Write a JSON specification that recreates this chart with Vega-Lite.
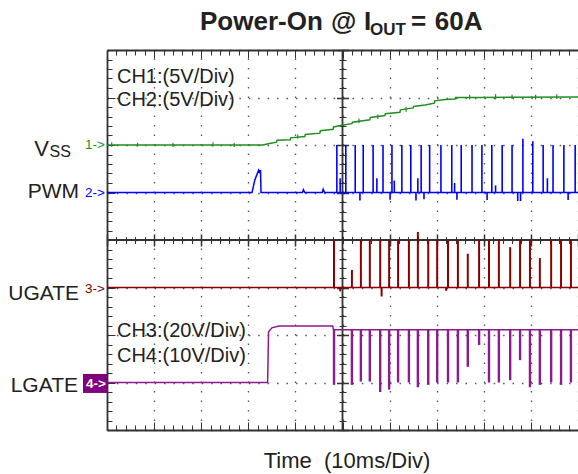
{
  "$schema": "https://vega.github.io/schema/vega-lite/v6.json",
  "width": 471,
  "height": 380,
  "autosize": {"type": "none"},
  "padding": {"left": 107, "top": 50, "right": 0, "bottom": 44},
  "background": "white",
  "config": {"view": {"stroke": null}, "font": "Liberation Sans", "text": {"font": "Liberation Sans"}},
  "resolve": {"axis": {"x": "independent", "y": "independent"}},
  "datasets": {
    "traces": [
      {"ch": "Vss", "t": 0, "v": 2.0}, {"ch": "Vss", "t": 33.1, "v": 2.0}, {"ch": "Vss", "t": 34.5, "v": 2.03}, {"ch": "Vss", "t": 36.0, "v": 2.06}, {"ch": "Vss", "t": 36.1, "v": 2.1}, {"ch": "Vss", "t": 38.9, "v": 2.11}, {"ch": "Vss", "t": 39.0, "v": 2.15}, {"ch": "Vss", "t": 42.0, "v": 2.18}, {"ch": "Vss", "t": 42.1, "v": 2.22}, {"ch": "Vss", "t": 45.2, "v": 2.25}, {"ch": "Vss", "t": 45.3, "v": 2.3}, {"ch": "Vss", "t": 48.0, "v": 2.33}, {"ch": "Vss", "t": 48.1, "v": 2.38}, {"ch": "Vss", "t": 50.1, "v": 2.42}, {"ch": "Vss", "t": 52.0, "v": 2.45}, {"ch": "Vss", "t": 52.1, "v": 2.48}, {"ch": "Vss", "t": 55.8, "v": 2.53}, {"ch": "Vss", "t": 55.9, "v": 2.58}, {"ch": "Vss", "t": 59.0, "v": 2.62}, {"ch": "Vss", "t": 59.1, "v": 2.66}, {"ch": "Vss", "t": 62.2, "v": 2.69}, {"ch": "Vss", "t": 62.3, "v": 2.74}, {"ch": "Vss", "t": 65.0, "v": 2.78}, {"ch": "Vss", "t": 65.1, "v": 2.81}, {"ch": "Vss", "t": 67.5, "v": 2.84}, {"ch": "Vss", "t": 69.5, "v": 2.88}, {"ch": "Vss", "t": 69.6, "v": 2.93}, {"ch": "Vss", "t": 71.8, "v": 2.96}, {"ch": "Vss", "t": 73.9, "v": 2.97}, {"ch": "Vss", "t": 74.0, "v": 3.0}, {"ch": "Vss", "t": 79.2, "v": 3.0}, {"ch": "Vss", "t": 100, "v": 3.01},
      {"ch": "PWM", "t": 0, "v": 1.0}, {"ch": "PWM", "t": 30.8, "v": 1.0}, {"ch": "PWM", "t": 31.4, "v": 1.27}, {"ch": "PWM", "t": 32.2, "v": 1.47}, {"ch": "PWM", "t": 32.4, "v": 1.43}, {"ch": "PWM", "t": 32.6, "v": 1.47}, {"ch": "PWM", "t": 32.7, "v": 1.0}, {"ch": "PWM", "t": 41.5, "v": 1.0}, {"ch": "PWM", "t": 41.7, "v": 1.06}, {"ch": "PWM", "t": 42.0, "v": 1.0}, {"ch": "PWM", "t": 45.7, "v": 1.0}, {"ch": "PWM", "t": 45.9, "v": 1.07}, {"ch": "PWM", "t": 46.2, "v": 1.0}, {"ch": "PWM", "t": 100, "v": 1.0},
      {"ch": "UGATE", "t": 0, "v": -1.0}, {"ch": "UGATE", "t": 100, "v": -1.0},
      {"ch": "LGATE", "t": 0, "v": -3.0}, {"ch": "LGATE", "t": 34.1, "v": -3.0}, {"ch": "LGATE", "t": 34.3, "v": -1.93}, {"ch": "LGATE", "t": 35.0, "v": -1.85}, {"ch": "LGATE", "t": 36.5, "v": -1.81}, {"ch": "LGATE", "t": 47.9, "v": -1.81}, {"ch": "LGATE", "t": 48.1, "v": -1.89}, {"ch": "LGATE", "t": 100, "v": -1.89}
    ],
    "pulses": [
      {"ch": "PWM", "t": 48.8, "lo": 1.0, "hi": 2.0}, {"ch": "PWM", "t": 50.7, "lo": 1.0, "hi": 2.0}, {"ch": "PWM", "t": 52.7, "lo": 1.0, "hi": 2.0}, {"ch": "PWM", "t": 54.4, "lo": 1.0, "hi": 2.0}, {"ch": "PWM", "t": 56.5, "lo": 1.0, "hi": 2.0}, {"ch": "PWM", "t": 58.6, "lo": 1.0, "hi": 2.0}, {"ch": "PWM", "t": 60.5, "lo": 1.0, "hi": 2.0}, {"ch": "PWM", "t": 62.6, "lo": 1.0, "hi": 2.0}, {"ch": "PWM", "t": 64.5, "lo": 1.0, "hi": 2.0}, {"ch": "PWM", "t": 66.7, "lo": 1.0, "hi": 2.0}, {"ch": "PWM", "t": 68.5, "lo": 1.0, "hi": 2.0}, {"ch": "PWM", "t": 70.9, "lo": 1.0, "hi": 2.0}, {"ch": "PWM", "t": 73.2, "lo": 1.0, "hi": 2.0}, {"ch": "PWM", "t": 75.2, "lo": 1.0, "hi": 2.0}, {"ch": "PWM", "t": 77.5, "lo": 1.0, "hi": 2.0}, {"ch": "PWM", "t": 79.6, "lo": 1.0, "hi": 2.0}, {"ch": "PWM", "t": 81.7, "lo": 1.0, "hi": 2.0}, {"ch": "PWM", "t": 83.9, "lo": 1.0, "hi": 2.0}, {"ch": "PWM", "t": 86.0, "lo": 1.0, "hi": 2.0}, {"ch": "PWM", "t": 88.3, "lo": 1.0, "hi": 2.13}, {"ch": "PWM", "t": 90.4, "lo": 1.0, "hi": 2.08}, {"ch": "PWM", "t": 92.6, "lo": 1.0, "hi": 2.0}, {"ch": "PWM", "t": 94.7, "lo": 1.0, "hi": 2.0}, {"ch": "PWM", "t": 97.0, "lo": 1.0, "hi": 2.0}, {"ch": "PWM", "t": 99.4, "lo": 1.0, "hi": 2.0},
      {"ch": "PWM", "t": 49.5, "lo": 1.0, "hi": 1.3}, {"ch": "PWM", "t": 57.3, "lo": 1.0, "hi": 1.3}, {"ch": "PWM", "t": 61.0, "lo": 1.0, "hi": 1.25}, {"ch": "PWM", "t": 66.0, "lo": 1.0, "hi": 1.3}, {"ch": "PWM", "t": 73.8, "lo": 1.0, "hi": 1.2}, {"ch": "PWM", "t": 82.5, "lo": 1.0, "hi": 1.15}, {"ch": "PWM", "t": 93.5, "lo": 1.0, "hi": 1.3},
      {"ch": "PWM", "t": 53.7, "lo": 1.0, "hi": 0.83}, {"ch": "PWM", "t": 60.1, "lo": 1.0, "hi": 0.85}, {"ch": "PWM", "t": 65.6, "lo": 1.0, "hi": 0.83}, {"ch": "PWM", "t": 67.3, "lo": 1.0, "hi": 0.86}, {"ch": "PWM", "t": 74.3, "lo": 1.0, "hi": 0.85}, {"ch": "PWM", "t": 80.7, "lo": 1.0, "hi": 0.84}, {"ch": "PWM", "t": 87.2, "lo": 1.0, "hi": 0.82}, {"ch": "PWM", "t": 87.8, "lo": 1.0, "hi": 0.82}, {"ch": "PWM", "t": 97.9, "lo": 1.0, "hi": 0.84},
      {"ch": "Vss", "t": 1.0, "lo": 1.96, "hi": 2.06}, {"ch": "Vss", "t": 6.5, "lo": 1.97, "hi": 2.05}, {"ch": "Vss", "t": 14.0, "lo": 1.96, "hi": 2.05}, {"ch": "Vss", "t": 22.5, "lo": 1.97, "hi": 2.06}, {"ch": "Vss", "t": 27.0, "lo": 1.96, "hi": 2.05}, {"ch": "Vss", "t": 40.5, "lo": 2.13, "hi": 2.22}, {"ch": "Vss", "t": 53.5, "lo": 2.46, "hi": 2.56}, {"ch": "Vss", "t": 57.5, "lo": 2.55, "hi": 2.64}, {"ch": "Vss", "t": 63.5, "lo": 2.7, "hi": 2.8}, {"ch": "Vss", "t": 77.0, "lo": 2.96, "hi": 3.06}, {"ch": "Vss", "t": 82.5, "lo": 2.96, "hi": 3.07}, {"ch": "Vss", "t": 86.0, "lo": 2.97, "hi": 3.06}, {"ch": "Vss", "t": 91.0, "lo": 2.96, "hi": 3.06}, {"ch": "Vss", "t": 95.5, "lo": 2.97, "hi": 3.07},
      {"ch": "UGATE", "t": 48.2, "lo": -1.0, "hi": 0.0}, {"ch": "UGATE", "t": 52.0, "lo": -1.0, "hi": -0.63}, {"ch": "UGATE", "t": 53.9, "lo": -1.0, "hi": 0.0}, {"ch": "UGATE", "t": 55.8, "lo": -1.0, "hi": 0.0}, {"ch": "UGATE", "t": 58.0, "lo": -1.0, "hi": 0.0}, {"ch": "UGATE", "t": 59.9, "lo": -1.0, "hi": 0.0}, {"ch": "UGATE", "t": 61.8, "lo": -1.0, "hi": 0.0}, {"ch": "UGATE", "t": 64.1, "lo": -1.0, "hi": 0.0}, {"ch": "UGATE", "t": 66.0, "lo": -1.0, "hi": 0.17}, {"ch": "UGATE", "t": 68.2, "lo": -1.0, "hi": 0.0}, {"ch": "UGATE", "t": 70.1, "lo": -1.0, "hi": 0.0}, {"ch": "UGATE", "t": 72.4, "lo": -1.0, "hi": 0.0}, {"ch": "UGATE", "t": 74.5, "lo": -1.0, "hi": 0.0}, {"ch": "UGATE", "t": 76.6, "lo": -1.0, "hi": -0.29}, {"ch": "UGATE", "t": 79.0, "lo": -1.0, "hi": 0.0}, {"ch": "UGATE", "t": 81.1, "lo": -1.0, "hi": 0.0}, {"ch": "UGATE", "t": 83.2, "lo": -1.0, "hi": 0.0}, {"ch": "UGATE", "t": 85.6, "lo": -1.0, "hi": -0.15}, {"ch": "UGATE", "t": 87.7, "lo": -1.0, "hi": 0.0}, {"ch": "UGATE", "t": 89.8, "lo": -1.0, "hi": 0.0}, {"ch": "UGATE", "t": 91.9, "lo": -1.0, "hi": -0.38}, {"ch": "UGATE", "t": 94.3, "lo": -1.0, "hi": 0.0}, {"ch": "UGATE", "t": 96.4, "lo": -1.0, "hi": 0.0}, {"ch": "UGATE", "t": 98.5, "lo": -1.0, "hi": 0.0},
      {"ch": "UGATE", "t": 49.5, "lo": -1.0, "hi": -1.08}, {"ch": "UGATE", "t": 58.3, "lo": -1.0, "hi": -1.19}, {"ch": "UGATE", "t": 72.0, "lo": -1.0, "hi": -1.07},
      {"ch": "LGATE", "t": 48.2, "lo": -3.05, "hi": -1.89}, {"ch": "LGATE", "t": 52.0, "lo": -3.05, "hi": -1.89}, {"ch": "LGATE", "t": 53.9, "lo": -2.98, "hi": -1.89}, {"ch": "LGATE", "t": 55.8, "lo": -2.98, "hi": -1.89}, {"ch": "LGATE", "t": 58.0, "lo": -3.2, "hi": -1.89}, {"ch": "LGATE", "t": 59.9, "lo": -3.15, "hi": -1.89}, {"ch": "LGATE", "t": 61.8, "lo": -3.0, "hi": -1.89}, {"ch": "LGATE", "t": 64.1, "lo": -3.0, "hi": -1.89}, {"ch": "LGATE", "t": 66.0, "lo": -3.1, "hi": -1.89}, {"ch": "LGATE", "t": 68.2, "lo": -3.05, "hi": -1.89}, {"ch": "LGATE", "t": 70.1, "lo": -3.0, "hi": -1.89}, {"ch": "LGATE", "t": 72.4, "lo": -3.0, "hi": -1.89}, {"ch": "LGATE", "t": 74.5, "lo": -3.0, "hi": -1.89}, {"ch": "LGATE", "t": 76.6, "lo": -2.67, "hi": -1.89}, {"ch": "LGATE", "t": 79.0, "lo": -2.21, "hi": -1.89}, {"ch": "LGATE", "t": 81.1, "lo": -3.0, "hi": -1.89}, {"ch": "LGATE", "t": 83.2, "lo": -3.0, "hi": -1.89}, {"ch": "LGATE", "t": 85.6, "lo": -2.95, "hi": -1.89}, {"ch": "LGATE", "t": 87.7, "lo": -2.53, "hi": -1.89}, {"ch": "LGATE", "t": 89.8, "lo": -3.1, "hi": -1.89}, {"ch": "LGATE", "t": 91.9, "lo": -3.05, "hi": -1.89}, {"ch": "LGATE", "t": 94.3, "lo": -3.0, "hi": -1.89}, {"ch": "LGATE", "t": 96.4, "lo": -3.05, "hi": -1.89}, {"ch": "LGATE", "t": 98.5, "lo": -3.0, "hi": -1.89}
    ]
  },
  "layer": [
    {
      "data": {"values": [{}]},
      "mark": {"type": "rule", "stroke": "#333", "strokeWidth": 1.8},
      "encoding": {"x": {"datum": 50, "type": "quantitative", "scale": {"domain": [0, 100], "nice": false, "zero": false},
        "axis": {"orient": "bottom", "values": [0,10,20,30,40,50,60,70,80,90,100], "tickSize": -8, "tickColor": "#333", "tickWidth": 1, "labels": false, "title": null, "domain": false,
          "grid": true, "gridColor": "#555", "gridWidth": 1.3, "gridDash": [1.5, 8]}}}
    },
    {
      "data": {"values": [{}]},
      "mark": {"type": "rule", "stroke": "#333", "strokeWidth": 1.8},
      "encoding": {"y": {"datum": 0, "type": "quantitative", "scale": {"domain": [-4, 4], "nice": false, "zero": false},
        "axis": {"orient": "left", "values": [-4,-3,-2,-1,0,1,2,3,4], "tickSize": -8, "tickColor": "#333", "tickWidth": 1, "labels": false, "title": null, "domain": false,
          "grid": true, "gridColor": "#555", "gridWidth": 1.3, "gridDash": [1.5, 7.92]}}}
    },
    {
      "data": {"values": [{}]},
      "mark": {"type": "rule", "opacity": 0},
      "encoding": {"x": {"datum": 50, "type": "quantitative", "scale": {"domain": [0, 100], "nice": false, "zero": false},
        "axis": {"orient": "bottom", "values": [0,2,4,6,8,10,12,14,16,18,20,22,24,26,28,30,32,34,36,38,40,42,44,46,48,50,52,54,56,58,60,62,64,66,68,70,72,74,76,78,80,82,84,86,88,90,92,94,96,98,100], "tickSize": -5, "tickColor": "#333", "tickWidth": 1, "labels": false, "title": null, "domain": true, "domainColor": "#333", "domainWidth": 1.8, "grid": false}}}
    },
    {
      "data": {"values": [{}]},
      "mark": {"type": "rule", "opacity": 0},
      "encoding": {"x": {"datum": 50, "type": "quantitative", "scale": {"domain": [0, 100], "nice": false, "zero": false},
        "axis": {"orient": "top", "values": [0,2,4,6,8,10,12,14,16,18,20,22,24,26,28,30,32,34,36,38,40,42,44,46,48,50,52,54,56,58,60,62,64,66,68,70,72,74,76,78,80,82,84,86,88,90,92,94,96,98,100], "tickSize": -5, "tickColor": "#333", "tickWidth": 1, "labels": false, "title": null, "domain": true, "domainColor": "#333", "domainWidth": 1.8, "grid": false}}}
    },
    {
      "data": {"values": [{}]},
      "mark": {"type": "rule", "opacity": 0},
      "encoding": {"x": {"datum": 50, "type": "quantitative", "scale": {"domain": [0, 100], "nice": false, "zero": false},
        "axis": {"orient": "top", "values": [0,10,20,30,40,50,60,70,80,90,100], "tickSize": -8, "tickColor": "#333", "tickWidth": 1, "labels": false, "title": null, "domain": false, "grid": false}}}
    },
    {
      "data": {"values": [{}]},
      "mark": {"type": "rule", "opacity": 0},
      "encoding": {"x": {"datum": 50, "type": "quantitative", "scale": {"domain": [0, 100], "nice": false, "zero": false},
        "axis": {"orient": "bottom", "offset": -190, "values": [0,2,4,6,8,10,12,14,16,18,20,22,24,26,28,30,32,34,36,38,40,42,44,46,48,50,52,54,56,58,60,62,64,66,68,70,72,74,76,78,80,82,84,86,88,90,92,94,96,98,100], "tickSize": 3.5, "tickColor": "#333", "tickWidth": 1, "labels": false, "title": null, "domain": false, "grid": false}}}
    },
    {
      "data": {"values": [{}]},
      "mark": {"type": "rule", "opacity": 0},
      "encoding": {"x": {"datum": 50, "type": "quantitative", "scale": {"domain": [0, 100], "nice": false, "zero": false},
        "axis": {"orient": "top", "offset": -190, "values": [0,2,4,6,8,10,12,14,16,18,20,22,24,26,28,30,32,34,36,38,40,42,44,46,48,50,52,54,56,58,60,62,64,66,68,70,72,74,76,78,80,82,84,86,88,90,92,94,96,98,100], "tickSize": 3.5, "tickColor": "#333", "tickWidth": 1, "labels": false, "title": null, "domain": false, "grid": false}}}
    },
    {
      "data": {"values": [{}]},
      "mark": {"type": "rule", "opacity": 0},
      "encoding": {"x": {"datum": 50, "type": "quantitative", "scale": {"domain": [0, 100], "nice": false, "zero": false},
        "axis": {"orient": "bottom", "offset": -190, "values": [0,10,20,30,40,60,70,80,90,100], "tickSize": 6, "tickColor": "#333", "tickWidth": 1.5, "labels": false, "title": null, "domain": false, "grid": false}}}
    },
    {
      "data": {"values": [{}]},
      "mark": {"type": "rule", "opacity": 0},
      "encoding": {"x": {"datum": 50, "type": "quantitative", "scale": {"domain": [0, 100], "nice": false, "zero": false},
        "axis": {"orient": "top", "offset": -190, "values": [0,10,20,30,40,60,70,80,90,100], "tickSize": 6, "tickColor": "#333", "tickWidth": 1.5, "labels": false, "title": null, "domain": false, "grid": false}}}
    },
    {
      "data": {"values": [{}]},
      "mark": {"type": "rule", "opacity": 0},
      "encoding": {"y": {"datum": 0, "type": "quantitative", "scale": {"domain": [-4, 4], "nice": false, "zero": false},
        "axis": {"orient": "left", "values": [-4,-3.8,-3.6,-3.4,-3.2,-3,-2.8,-2.6,-2.4,-2.2,-2,-1.8,-1.6,-1.4,-1.2,-1,-0.8,-0.6,-0.4,-0.2,0,0.2,0.4,0.6,0.8,1,1.2,1.4,1.6,1.8,2,2.2,2.4,2.6,2.8,3,3.2,3.4,3.6,3.8,4], "tickSize": -5, "tickColor": "#333", "tickWidth": 1, "labels": false, "title": null, "domain": true, "domainColor": "#333", "domainWidth": 1.8, "grid": false}}}
    },
    {
      "data": {"values": [{}]},
      "mark": {"type": "rule", "opacity": 0},
      "encoding": {"y": {"datum": 0, "type": "quantitative", "scale": {"domain": [-4, 4], "nice": false, "zero": false},
        "axis": {"orient": "left", "offset": -235.5, "values": [-4,-3.8,-3.6,-3.4,-3.2,-3,-2.8,-2.6,-2.4,-2.2,-2,-1.8,-1.6,-1.4,-1.2,-1,-0.8,-0.6,-0.4,-0.2,0,0.2,0.4,0.6,0.8,1,1.2,1.4,1.6,1.8,2,2.2,2.4,2.6,2.8,3,3.2,3.4,3.6,3.8,4], "tickSize": 3.5, "tickColor": "#333", "tickWidth": 1, "labels": false, "title": null, "domain": false, "grid": false}}}
    },
    {
      "data": {"values": [{}]},
      "mark": {"type": "rule", "opacity": 0},
      "encoding": {"y": {"datum": 0, "type": "quantitative", "scale": {"domain": [-4, 4], "nice": false, "zero": false},
        "axis": {"orient": "right", "offset": -235.5, "values": [-4,-3.8,-3.6,-3.4,-3.2,-3,-2.8,-2.6,-2.4,-2.2,-2,-1.8,-1.6,-1.4,-1.2,-1,-0.8,-0.6,-0.4,-0.2,0,0.2,0.4,0.6,0.8,1,1.2,1.4,1.6,1.8,2,2.2,2.4,2.6,2.8,3,3.2,3.4,3.6,3.8,4], "tickSize": 3.5, "tickColor": "#333", "tickWidth": 1, "labels": false, "title": null, "domain": false, "grid": false}}}
    },
    {
      "data": {"values": [{}]},
      "mark": {"type": "rule", "opacity": 0},
      "encoding": {"y": {"datum": 0, "type": "quantitative", "scale": {"domain": [-4, 4], "nice": false, "zero": false},
        "axis": {"orient": "left", "offset": -235.5, "values": [-4,-3,-2,-1,1,2,3,4], "tickSize": 6, "tickColor": "#333", "tickWidth": 1.5, "labels": false, "title": null, "domain": false, "grid": false}}}
    },
    {
      "data": {"values": [{}]},
      "mark": {"type": "rule", "opacity": 0},
      "encoding": {"y": {"datum": 0, "type": "quantitative", "scale": {"domain": [-4, 4], "nice": false, "zero": false},
        "axis": {"orient": "right", "offset": -235.5, "values": [-4,-3,-2,-1,1,2,3,4], "tickSize": 6, "tickColor": "#333", "tickWidth": 1.5, "labels": false, "title": null, "domain": false, "grid": false}}}
    },
    {
      "data": {"name": "traces"},
      "mark": {"type": "line", "strokeWidth": 1.5, "interpolate": "linear"},
      "encoding": {
        "x": {"field": "t", "type": "quantitative", "scale": {"domain": [0, 100], "nice": false, "zero": false}, "axis": null},
        "y": {"field": "v", "type": "quantitative", "scale": {"domain": [-4, 4], "nice": false, "zero": false}, "axis": null},
        "color": {"field": "ch", "type": "nominal", "scale": {"domain": ["Vss", "PWM", "UGATE", "LGATE"], "range": ["#1f8f1f", "#0000ff", "#8b0000", "#8e1b8e"]}, "legend": null}
      }
    },
    {
      "data": {"name": "pulses"},
      "mark": {"type": "rule"},
      "encoding": {
        "x": {"field": "t", "type": "quantitative", "scale": {"domain": [0, 100], "nice": false, "zero": false}, "axis": null},
        "y": {"field": "lo", "type": "quantitative", "scale": {"domain": [-4, 4], "nice": false, "zero": false}, "axis": null},
        "y2": {"field": "hi"},
        "color": {"field": "ch", "type": "nominal", "scale": {"domain": ["Vss", "PWM", "UGATE", "LGATE"], "range": ["#1f8f1f", "#0000ff", "#8b0000", "#8e1b8e"]}, "legend": null},
        "strokeWidth": {"field": "ch", "type": "nominal", "scale": {"domain": ["Vss", "PWM", "UGATE", "LGATE"], "range": [1.2, 2.4, 3.2, 2.4]}, "legend": null}
      }
    },
    {
      "data": {"values": [{"x1": -5.1, "x2": 0, "y1": -2.82, "y2": -3.22}]},
      "mark": {"type": "rect", "color": "#800080"},
      "encoding": {
        "x": {"field": "x1", "type": "quantitative", "scale": {"domain": [0, 100], "nice": false, "zero": false}, "axis": null},
        "x2": {"field": "x2"},
        "y": {"field": "y1", "type": "quantitative", "scale": {"domain": [-4, 4], "nice": false, "zero": false}, "axis": null},
        "y2": {"field": "y2"}
      }
    },
    {
      "data": {"values": [
        {"ch": "Vss", "label": "1->", "t": -4.67, "v": 2.0},
        {"ch": "PWM", "label": "2->", "t": -4.67, "v": 0.99},
        {"ch": "UGATE", "label": "3->", "t": -4.67, "v": -1.04}
      ]},
      "mark": {"type": "text", "align": "left", "baseline": "middle", "fontSize": 13.5},
      "encoding": {
        "x": {"field": "t", "type": "quantitative", "scale": {"domain": [0, 100], "nice": false, "zero": false}, "axis": null},
        "y": {"field": "v", "type": "quantitative", "scale": {"domain": [-4, 4], "nice": false, "zero": false}, "axis": null},
        "text": {"field": "label"},
        "color": {"field": "ch", "type": "nominal", "scale": {"domain": ["Vss", "PWM", "UGATE", "LGATE"], "range": ["#1f8f1f", "#0000ff", "#8b0000", "#8e1b8e"]}, "legend": null}
      }
    },
    {
      "data": {"values": [{"label": "4->", "t": -4.46, "v": -3.04}]},
      "mark": {"type": "text", "align": "left", "baseline": "middle", "fontSize": 13.5, "fontWeight": "bold", "color": "white"},
      "encoding": {
        "x": {"field": "t", "type": "quantitative", "scale": {"domain": [0, 100], "nice": false, "zero": false}, "axis": null},
        "y": {"field": "v", "type": "quantitative", "scale": {"domain": [-4, 4], "nice": false, "zero": false}, "axis": null},
        "text": {"field": "label"}
      }
    },
    {
      "data": {"values": [
        {"label": "PWM", "t": -5.94, "v": 0.884},
        {"label": "UGATE", "t": -5.94, "v": -1.263},
        {"label": "LGATE", "t": -6.16, "v": -3.2}
      ]},
      "mark": {"type": "text", "align": "right", "baseline": "alphabetic", "fontSize": 21, "color": "#222"},
      "encoding": {
        "x": {"field": "t", "type": "quantitative", "scale": {"domain": [0, 100], "nice": false, "zero": false}, "axis": null},
        "y": {"field": "v", "type": "quantitative", "scale": {"domain": [-4, 4], "nice": false, "zero": false}, "axis": null},
        "text": {"field": "label"}
      }
    },
    {
      "data": {"values": [{"label": "V", "t": -12.31, "v": 1.768}]},
      "mark": {"type": "text", "align": "right", "baseline": "alphabetic", "fontSize": 22, "color": "#222"},
      "encoding": {
        "x": {"field": "t", "type": "quantitative", "scale": {"domain": [0, 100], "nice": false, "zero": false}, "axis": null},
        "y": {"field": "v", "type": "quantitative", "scale": {"domain": [-4, 4], "nice": false, "zero": false}, "axis": null},
        "text": {"field": "label"}
      }
    },
    {
      "data": {"values": [{"label": "SS", "t": -12.2, "v": 1.747}]},
      "mark": {"type": "text", "align": "left", "baseline": "alphabetic", "fontSize": 16, "color": "#222"},
      "encoding": {
        "x": {"field": "t", "type": "quantitative", "scale": {"domain": [0, 100], "nice": false, "zero": false}, "axis": null},
        "y": {"field": "v", "type": "quantitative", "scale": {"domain": [-4, 4], "nice": false, "zero": false}, "axis": null},
        "text": {"field": "label"}
      }
    },
    {
      "data": {"values": [
        {"label": "CH1:(5V/Div)", "t": 2.12, "v": 3.305},
        {"label": "CH2:(5V/Div)", "t": 2.12, "v": 2.821},
        {"label": "CH3:(20V/Div)", "t": 2.12, "v": -2.036},
        {"label": "CH4:(10V/Div)", "t": 2.12, "v": -2.562}
      ]},
      "mark": {"type": "text", "align": "left", "baseline": "alphabetic", "fontSize": 20, "color": "#222"},
      "encoding": {
        "x": {"field": "t", "type": "quantitative", "scale": {"domain": [0, 100], "nice": false, "zero": false}, "axis": null},
        "y": {"field": "v", "type": "quantitative", "scale": {"domain": [-4, 4], "nice": false, "zero": false}, "axis": null},
        "text": {"field": "label"}
      }
    },
    {
      "data": {"values": [{"label": "Time\u00a0 (10ms/Div)", "t": 50.96, "v": -4.8}]},
      "mark": {"type": "text", "align": "center", "baseline": "alphabetic", "fontSize": 22, "color": "#222"},
      "encoding": {
        "x": {"field": "t", "type": "quantitative", "scale": {"domain": [0, 100], "nice": false, "zero": false}, "axis": null},
        "y": {"field": "v", "type": "quantitative", "scale": {"domain": [-4, 4], "nice": false, "zero": false}, "axis": null},
        "text": {"field": "label"}
      }
    },
    {
      "data": {"values": [
        {"label": "Power-On", "t": 19.75, "v": 4.42},
        {"label": "@", "t": 47.56, "v": 4.42},
        {"label": "I", "t": 54.56, "v": 4.42},
        {"label": "=", "t": 64.54, "v": 4.42},
        {"label": "60A", "t": 69.6, "v": 4.42}
      ]},
      "mark": {"type": "text", "align": "left", "baseline": "alphabetic", "fontSize": 26, "fontWeight": "bold", "color": "#222"},
      "encoding": {
        "x": {"field": "t", "type": "quantitative", "scale": {"domain": [0, 100], "nice": false, "zero": false}, "axis": null},
        "y": {"field": "v", "type": "quantitative", "scale": {"domain": [-4, 4], "nice": false, "zero": false}, "axis": null},
        "text": {"field": "label"}
      }
    },
    {
      "data": {"values": [{"label": "OUT", "t": 55.84, "v": 4.316}]},
      "mark": {"type": "text", "align": "left", "baseline": "alphabetic", "fontSize": 17, "fontWeight": "bold", "color": "#222"},
      "encoding": {
        "x": {"field": "t", "type": "quantitative", "scale": {"domain": [0, 100], "nice": false, "zero": false}, "axis": null},
        "y": {"field": "v", "type": "quantitative", "scale": {"domain": [-4, 4], "nice": false, "zero": false}, "axis": null},
        "text": {"field": "label"}
      }
    }
  ]
}
